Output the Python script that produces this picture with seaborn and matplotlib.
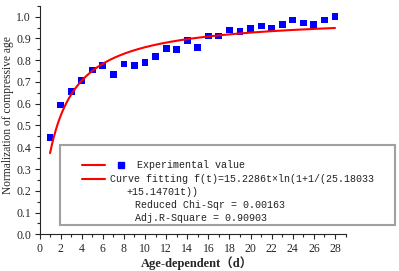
import numpy as np
import matplotlib
matplotlib.use("Agg")
import matplotlib.pyplot as plt
import seaborn as sns
from matplotlib.lines import Line2D
from matplotlib.patches import Rectangle
from matplotlib.ticker import MultipleLocator

# Experimental points (age in days, normalized compressive age)
days = list(range(1, 29))
norm_age = [0.446, 0.594, 0.655, 0.706, 0.755, 0.775, 0.735, 0.783, 0.777, 0.790,
            0.816, 0.855, 0.850, 0.891, 0.859, 0.911, 0.911, 0.939, 0.931, 0.945,
            0.957, 0.945, 0.965, 0.985, 0.971, 0.965, 0.985, 0.999]

# Fitted model parameters, f(t) = a*t*ln(1 + 1/(b + c*t))
a, b, c = 15.2286, 25.18033, 15.14701

sns.set_style("ticks")
plt.rcParams['font.family'] = ['Liberation Serif', 'Noto Sans CJK SC']

fig = plt.figure(figsize=(3.99, 2.71), dpi=100)
ax = fig.add_axes([0.099, 0.1354, 0.767, 0.8432])

t = np.linspace(1, 28, 300)
fit = a * t * np.log(1 + 1 / (b + c * t))
sns.lineplot(x=t, y=fit, ax=ax, color="#ff0000", linewidth=1.5)
sns.scatterplot(x=days, y=norm_age, ax=ax, marker="s", s=24, color="#0000ff",
                edgecolor="none")

ax.set_xlim(0, 29)
ax.set_ylim(0, 1.05)
ax.xaxis.set_major_locator(MultipleLocator(2))
ax.xaxis.set_minor_locator(MultipleLocator(1))
ax.set_yticks(np.arange(0, 1.01, 0.1))
ax.set_yticklabels([f"{v:.1f}" for v in np.arange(0, 1.01, 0.1)])
ax.yaxis.set_minor_locator(MultipleLocator(0.05))
ax.tick_params(which="major", direction="out", length=3.5, width=0.8,
               labelsize=8.5, pad=2.5)
ax.tick_params(which="minor", direction="out", length=2, width=0.8)
for s in ["top", "right"]:
    ax.spines[s].set_visible(False)
for s in ["left", "bottom"]:
    ax.spines[s].set_linewidth(0.8)

ax.set_xlabel("Age-dependent（d）", fontsize=9, fontweight="bold")
ax.xaxis.set_label_coords(0.515, -0.095)
ax.set_ylabel("Normalization of compressive age", fontsize=8.3)
ax.yaxis.set_label_coords(-0.083, 0.52)

# Origin-style legend box
W, H = 399.0, 271.0
fig.patches.append(Rectangle((60 / W, 1 - 225 / H), 335 / W, 80 / H,
                             transform=fig.transFigure, fill=False,
                             edgecolor="#a0a0a0", linewidth=1.5))
for yy in [165, 179]:
    fig.lines.append(Line2D([82 / W, 105 / W], [1 - yy / H, 1 - yy / H],
                            transform=fig.transFigure, color="#ff0000", linewidth=1.5))
fig.lines.append(Line2D([121 / W], [1 - 165 / H], transform=fig.transFigure,
                        marker="s", markersize=4.5, color="#0000ff", linestyle="none"))

mono = ["Liberation Mono", "DejaVu Sans Mono"]
rows = [(137, 165, "Experimental value"),
        (110, 179, "Curve fitting f(t)=15.2286t×ln(1+1/(25.18033"),
        (126, 192, "+15.14701t))"),
        (135, 205, "Reduced Chi-Sqr = 0.00163"),
        (135, 218, "Adj.R-Square = 0.90903")]
for x0, y0, txt in rows:
    fig.text(x0 / W, 1 - y0 / H, txt, family=mono, fontsize=7.2,
             va="center", ha="left", color="#222222")

fig.savefig("out.png", dpi=100)
